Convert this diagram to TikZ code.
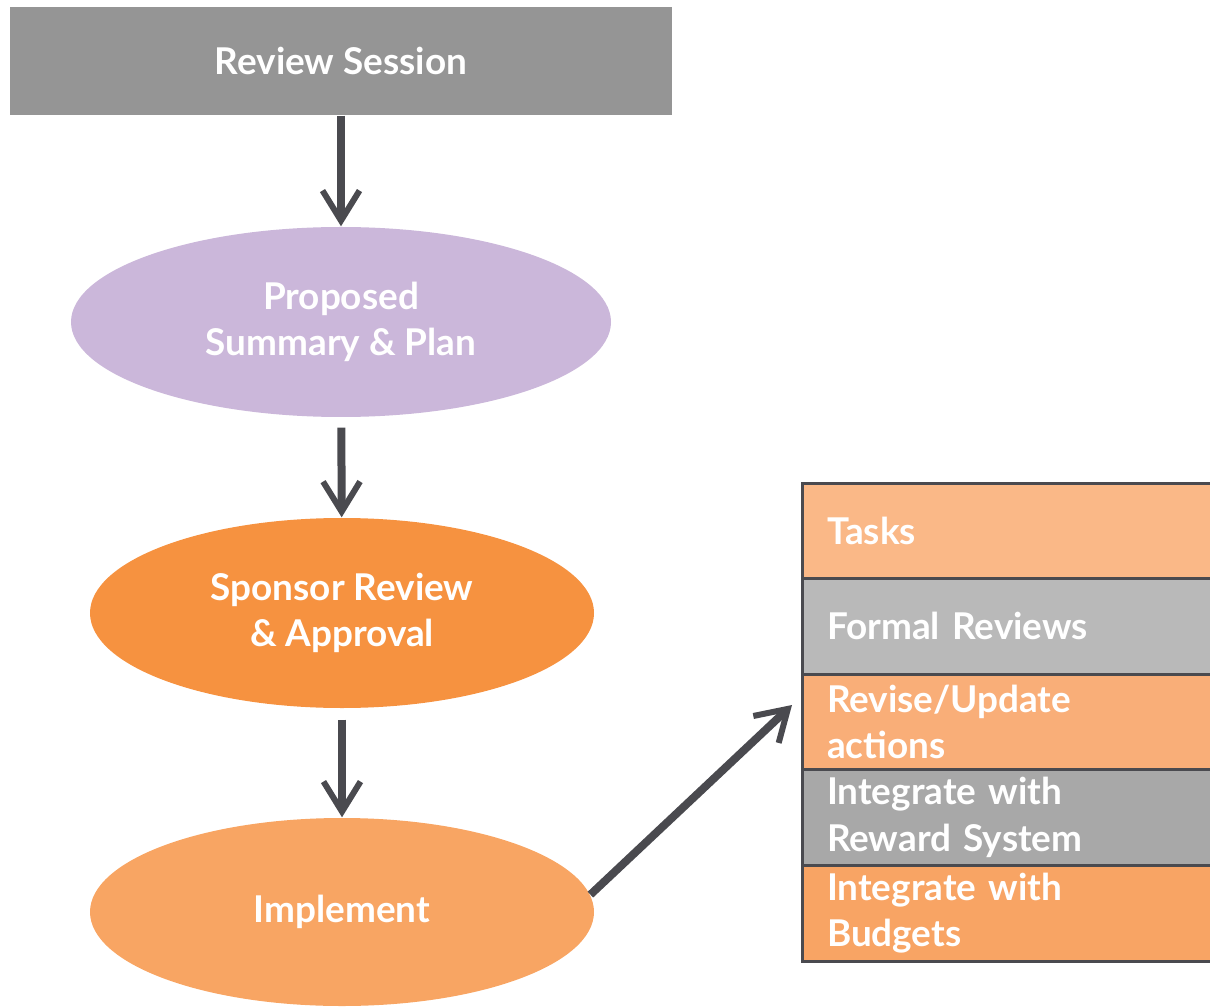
\documentclass[tikz,border=0pt]{standalone}
\usepackage{fontspec}
\setmainfont{Lato}
\usetikzlibrary{positioning,shapes.geometric,arrows.meta}

\definecolor{headgray}{HTML}{959595}
\definecolor{lavender}{HTML}{CBB7DA}
\definecolor{deeporange}{HTML}{F69240}
\definecolor{softorange}{HTML}{F8A563}
\definecolor{taskorange}{HTML}{FAB887}
\definecolor{reviseorange}{HTML}{F9AE78}
\definecolor{budgetorange}{HTML}{F8A464}
\definecolor{lightgray}{HTML}{B9B9B9}
\definecolor{midgray}{HTML}{A8A8A8}
\definecolor{arrowgray}{HTML}{4A4A4F}

\tikzset{
  label/.style={text=white,font=\fontsize{10.5}{13.3}\selectfont\bfseries},
  phase/.style={ellipse,label,inner sep=0pt,align=center},
  row/.style={rectangle,draw=arrowgray,line width=0.03cm,outer sep=0pt,
    minimum width=4.3cm,minimum height=0.956cm,text width=3.8cm,
    inner xsep=0.24cm,inner ysep=0pt,align=left,label},
  flow/.style={draw=arrowgray,line width=0.08cm,
    -{Straight Barb[length=0.3cm,width=0.37cm,line width=0.06cm]}}
}

\begin{document}
\begin{tikzpicture}
\useasboundingbox (0,0) rectangle (12.10,10.07);

\node[rectangle,fill=headgray,minimum width=6.62cm,minimum height=1.08cm,label] (review) at (3.41,9.46) {Review Session};
\node[phase,fill=lavender,minimum width=5.40cm,minimum height=1.90cm] (plan) at (3.41,6.85) {Proposed\\Summary \& Plan};
\node[phase,fill=deeporange,minimum width=5.04cm,minimum height=1.90cm] (approval) at (3.42,3.94) {Sponsor Review\\\& Approval};
\node[phase,fill=softorange,minimum width=5.04cm,minimum height=1.88cm] (implement) at (3.42,0.95) {Implement};

% stacked steps, cut off at the right edge
\node[row,fill=taskorange,anchor=north west] (tasks) at (8.02,5.24) {Tasks};
\node[row,fill=lightgray,below=0pt of tasks] (formal) {Formal Reviews};
\node[row,fill=reviseorange,below=0pt of formal] (revise) {Revise/Update\\actions};
\node[row,fill=midgray,below=0pt of revise] (reward) {Integrate with\\Reward System};
\node[row,fill=budgetorange,below=0pt of reward] (budgets) {Integrate with\\Budgets};

\draw[flow] (review) -- (plan);
\draw[flow,shorten <=0.1cm] (plan) -- (approval);
\draw[flow,shorten <=0.11cm] (approval) -- (implement);
\coordinate (goal) at (7.92,3.02);
\draw[flow] (implement.4) -- (goal);

\end{tikzpicture}
\end{document}
